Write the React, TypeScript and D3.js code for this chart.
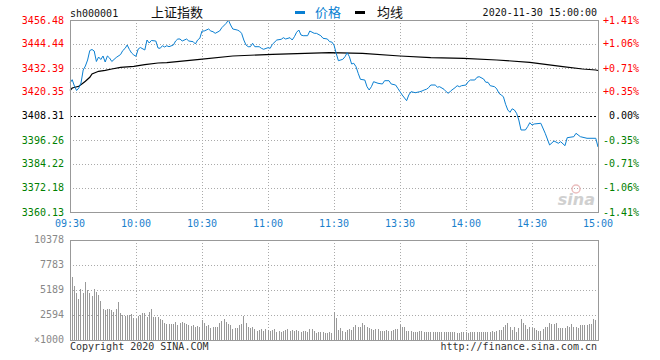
import React from "react";
import * as d3 from "d3";

// ---------- data ----------
const leftTicks = [3456.48, 3444.44, 3432.39, 3420.35, 3408.31, 3396.26, 3384.22, 3372.18, 3360.13];
const rightTicks = ["+1.41%", "+1.06%", "+0.71%", "+0.35%", "0.00%", "-0.35%", "-0.71%", "-1.06%", "-1.41%"];
const timeLabels = ["09:30", "10:00", "10:30", "11:00", "11:30", "13:30", "14:00", "14:30", "15:00"];
const volTicks = [10378, 7783, 5189, 2594];
const preClose = 3408.31;

const priceTimes = [
  "09:30","09:31","09:32","09:33","09:34","09:35","09:36","09:37","09:38","09:39","09:40","09:41","09:42","09:43","09:44","09:45","09:46","09:47","09:48","09:49","09:50","09:51","09:53","09:54","09:55","09:56","09:57","09:58","09:59","10:00",
  "10:01","10:02","10:04","10:05","10:06","10:07","10:09","10:10","10:11","10:12","10:13","10:14","10:15","10:17","10:18","10:19","10:20","10:21","10:23","10:24","10:26","10:27","10:28","10:29","10:30",
  "10:31","10:33","10:34","10:35","10:36","10:38","10:39","10:41","10:42","10:43","10:44","10:46","10:47","10:48","10:49","10:50","10:51","10:52","10:53","10:54","10:56","10:57","10:58","11:00",
  "11:01","11:02","11:04","11:06","11:07","11:08","11:10","11:11","11:12","11:13","11:14","11:15","11:16","11:18","11:19","11:21","11:22","11:24","11:25","11:27","11:28","11:29","11:30",
  "13:01","13:02","13:04","13:05","13:06","13:07","13:08","13:09","13:10","13:11","13:12","13:14","13:15","13:16","13:17","13:18","13:20","13:22","13:23","13:25","13:26","13:28","13:29","13:30",
  "13:31","13:33","13:34","13:35","13:37","13:39","13:40","13:41","13:42","13:43","13:44","13:46","13:47","13:48","13:50","13:51","13:52","13:53","13:55","13:56","13:57","13:58","14:00",
  "14:01","14:02","14:04","14:05","14:06","14:08","14:09","14:10","14:11","14:13","14:14","14:15","14:16","14:17","14:18","14:19","14:20","14:21","14:22","14:23","14:24","14:25","14:27","14:28","14:29","14:30",
  "14:31","14:34","14:36","14:38","14:40","14:42","14:43","14:45","14:46","14:49","14:50","14:52","14:55","14:59","15:00"
];
const priceValues = [
  3424.87,3426.52,3423.36,3421.10,3422.36,3424.87,3431.39,3433.40,3436.41,3441.17,3441.68,3440.92,3435.66,3437.91,3436.66,3438.42,3435.40,3438.42,3437.41,3435.66,3436.66,3437.66,3439.17,3441.17,3442.18,3443.93,3441.68,3439.92,3438.92,3438.26,
  3441.93,3442.68,3441.43,3446.44,3444.94,3446.19,3445.94,3442.43,3442.28,3443.58,3442.93,3443.58,3443.08,3443.93,3445.94,3446.94,3446.94,3445.94,3446.94,3445.94,3445.59,3444.44,3446.44,3447.30,3450.96,
  3450.96,3451.96,3450.96,3450.61,3449.80,3450.96,3452.61,3454.82,3456.48,3453.97,3451.96,3451.46,3450.96,3449.80,3446.44,3443.93,3443.08,3443.08,3444.79,3443.08,3443.08,3442.28,3441.78,3442.58,
  3442.28,3444.29,3446.44,3446.79,3447.60,3446.94,3447.60,3446.44,3448.10,3450.31,3451.46,3448.95,3448.60,3448.60,3450.96,3449.80,3449.80,3448.60,3447.30,3446.94,3445.59,3445.44,3443.93,
  3439.77,3436.06,3436.76,3438.06,3440.07,3438.06,3434.40,3434.75,3433.05,3429.73,3426.72,3426.37,3423.01,3421.36,3423.01,3425.52,3424.72,3424.37,3426.02,3426.02,3424.37,3423.86,3422.21,3420.50,
  3418.85,3415.99,3418.85,3420.50,3420.00,3420.50,3420.85,3421.36,3421.71,3422.51,3423.86,3423.86,3422.76,3423.01,3421.71,3420.50,3419.70,3420.85,3422.51,3423.51,3423.01,3423.51,3423.86,
  3425.52,3426.37,3426.37,3427.73,3428.03,3426.87,3425.22,3425.22,3423.51,3423.01,3421.86,3419.70,3418.85,3417.99,3414.18,3411.32,3410.17,3411.92,3411.32,3409.66,3406.30,3401.29,3401.29,3402.94,3404.95,3403.79,
  3404.30,3404.65,3399.63,3393.76,3395.77,3394.61,3395.42,3393.41,3397.42,3397.92,3399.63,3397.92,3397.12,3397.12,3392.76
];

const avgTimes = ["09:30","09:31","09:34","09:36","09:37","09:39","09:40","09:43","09:46","09:49","09:53","09:59","10:04","10:10","10:14","10:29","10:44","11:02","11:28","13:13","13:30","13:44","13:59","14:14","14:29","14:44","14:53","14:59","15:00"];
const avgValues = [3421.11,3422.36,3423.21,3424.87,3425.72,3427.73,3429.38,3430.74,3431.24,3431.89,3432.74,3433.24,3434.05,3434.90,3435.05,3436.76,3438.42,3439.27,3440.07,3439.77,3438.42,3437.56,3437.26,3436.41,3435.26,3433.05,3431.89,3431.39,3431.14];

// volume per minute (x1000), 09:30 .. 11:30, 13:01 .. 15:00
const volOpen = [10378];
const vol0930 = [6574,5605,4913,4256,5259,4913,6055,5190,4913,4567,5294,5017,4671,4083,3183,3114,3218,3183,3114,2941,3183,3979,2837,2595,2491,2595,2595,2699,2249,2145];
const vol1000 = [2491,2595,2837,2768,2353,2941,3218,2422,2353,2422,2145,2076,1799,1661,1661,1661,1661,1903,1557,1799,1903,1799,1661,1557,1488,1557,1384,1488,1315,2076];
const vol1030 = [1799,1453,1557,1211,1315,1384,1384,1799,2007,2145,1903,1661,1557,1142,1211,1280,1557,1661,2491,1799,1384,1211,1315,1107,969,1038,1107,969,1107,1038];
const vol1100 = [969,1038,1107,865,969,865,969,1038,1107,969,1038,969,1038,969,865,969,934,865,1107,1142,969,761,865,796,830,692,761,830,692,2941];
const vol1300 = [2249,1038,1211,969,865,1038,1107,1038,1315,1557,1384,1384,1799,1557,1384,1211,1107,1038,1107,1142,969,969,969,1038,969,969,1038,1142,1107,1557];
const vol1330 = [1384,1315,969,969,934,865,865,865,969,934,865,796,830,865,796,830,796,865,865,865,865,865,865,865,796,692,761,830,865,865];
const vol1400 = [692,865,865,830,865,830,865,865,865,865,865,969,865,969,1038,1038,1384,1557,1799,1315,1038,1384,865,1211,2145,1730,1557,1107,1384,1211];
const vol1430 = [1211,1038,969,969,1107,1315,1384,1799,1626,1661,1799,1280,1280,1280,1280,1453,1384,1661,1315,1315,1246,1557,1557,1557,1557,1626,1661,2180,2076,277];
const volumes = [...volOpen, ...vol0930, ...vol1000, ...vol1030, ...vol1100, ...vol1300, ...vol1330, ...vol1400, ...vol1430];

// ---------- helpers ----------
const toIdx = (t: string) => {
  const [h, m] = t.split(":").map(Number);
  const mins = h * 60 + m;
  if (mins <= 11 * 60 + 30) return mins - (9 * 60 + 30);
  return mins - 13 * 60 + 120;
};

const W = 660, H = 360;
const L = 70, R = 598, T = 20, B = 212;
const VT = 240, VB = 340;
const mono = "'DejaVu Sans Mono', 'Liberation Mono', monospace";
const cjk = "'Noto Sans CJK SC', 'Noto Sans', sans-serif";
const BLUE = "#0a7fd2";
const TBLUE = "#1a80cc";
const GRID = "#aaaaaa";
const BORDER = "#999999";

export default function App() {
  const x = d3.scaleLinear().domain([0, 240]).range([L, R]);
  const y = d3.scaleLinear().domain([leftTicks[8], leftTicks[0]]).range([B, T]);
  const yv = d3.scaleLinear().domain([0, volTicks[0]]).range([VB, VT]);

  const line = d3.line<[number, number]>().x(d => x(d[0])).y(d => y(d[1]));
  const pricePath = line(priceTimes.map((t, i) => [toIdx(t), priceValues[i]]));
  const avgPath = line(avgTimes.map((t, i) => [toIdx(t), avgValues[i]]));

  const gridIdx = timeLabels.map(toIdx).map((v, i) => (i === 5 ? 150 : v));
  const labelColor = (i: number) => (i < 4 ? "#ff0000" : i === 4 ? "#000000" : "#008000");

  return (
    <svg width={W} height={H} style={{ position: "absolute", left: 0, top: 0, background: "#fff" }}
      xmlns="http://www.w3.org/2000/svg">
      <rect x={0} y={0} width={W} height={H} fill="#ffffff" />
      {/* header */}
      <text x={70} y={16.5} fontFamily={mono} fontSize={10} fill="#111">sh000001</text>
      <text x={151} y={16.5} fontFamily={cjk} fontSize={13} fill="#111">上证指数</text>
      <rect x={295} y={11} width={10} height={3} fill={BLUE} />
      <text x={315} y={16.5} fontFamily={cjk} fontSize={13} fill={BLUE}>价格</text>
      <rect x={355} y={11} width={10} height={3} fill="#000" />
      <text x={377} y={16.5} fontFamily={cjk} fontSize={13} fill="#111">均线</text>
      <text x={597} y={16} fontFamily={mono} fontSize={10} fill="#111" textAnchor="end">2020-11-30 15:00:00</text>

      {/* main grid */}
      <g shapeRendering="crispEdges">
        {leftTicks.map((v, i) =>
          i > 0 && i < 8 && i !== 4 ? (
            <line key={"h" + i} x1={L} x2={R} y1={Math.round(y(v)) + 0.5} y2={Math.round(y(v)) + 0.5}
              stroke={GRID} strokeDasharray="1,2" />
          ) : null
        )}
        {gridIdx.slice(1, 8).map((v, i) => (
          <line key={"v" + i} x1={Math.round(x(v)) + 0.5} x2={Math.round(x(v)) + 0.5} y1={T} y2={B}
            stroke={GRID} strokeDasharray="1,2" />
        ))}
        <line x1={L} x2={R} y1={Math.round(y(preClose)) + 0.5} y2={Math.round(y(preClose)) + 0.5}
          stroke="#000" strokeDasharray="2,2" />
      </g>

      {/* watermark */}
      <g opacity={0.9}>
        <circle cx={576} cy={189} r={4} fill="none" stroke="#e9b8b8" strokeWidth={1.5} />
        <text x={595} y={205} fontFamily="'DejaVu Sans', sans-serif" fontSize={16} fontWeight="bold"
          fontStyle="italic" fill="#cccccc" textAnchor="end">sina</text>
      </g>

      {/* lines */}
      <path d={avgPath || ""} fill="none" stroke="#000" strokeWidth={1.2} />
      <path d={pricePath || ""} fill="none" stroke={BLUE} strokeWidth={1} />

      {/* main border */}
      <rect x={L + 0.5} y={T + 0.5} width={R - L} height={B - T} fill="none" stroke={BORDER}
        strokeWidth={1.5} shapeRendering="crispEdges" />

      {/* left labels */}
      {leftTicks.map((v, i) => (
        <text key={"l" + i} x={64} y={y(v) + 3.5} fontFamily={mono} fontSize={10} textAnchor="end"
          fill={labelColor(i)}>{v.toFixed(2)}</text>
      ))}
      {/* right labels */}
      {rightTicks.map((s, i) => (
        <text key={"r" + i} x={603} y={y(leftTicks[i]) + 3.5} fontFamily={mono} fontSize={10}
          fill={labelColor(i)} xmlSpace="preserve">{i === 4 ? " " + s : s}</text>
      ))}
      {/* time labels */}
      {timeLabels.map((s, i) => (
        <text key={"t" + i} x={x(gridIdx[i])} y={227} fontFamily={mono} fontSize={10} textAnchor="middle"
          fill={TBLUE}>{s}</text>
      ))}

      {/* volume grid */}
      <g shapeRendering="crispEdges">
        {volTicks.slice(1).map((v, i) => (
          <line key={"vh" + i} x1={L} x2={R} y1={Math.round(yv(v)) + 0.5} y2={Math.round(yv(v)) + 0.5}
            stroke={GRID} strokeDasharray="1,2" />
        ))}
        {gridIdx.slice(1, 8).map((v, i) => (
          <line key={"vv" + i} x1={Math.round(x(v)) + 0.5} x2={Math.round(x(v)) + 0.5} y1={VT} y2={VB}
            stroke={GRID} strokeDasharray="1,2" />
        ))}
        {volumes.map((v, i) => (
          <line key={"b" + i} x1={Math.floor(x(i)) + 0.5} x2={Math.floor(x(i)) + 0.5} y1={VB}
            y2={Math.round(yv(v))} stroke="#999" strokeWidth={1} />
        ))}
        <rect x={L + 0.5} y={VT + 0.5} width={R - L} height={VB - VT} fill="none" stroke={BORDER}
          strokeWidth={1.5} />
      </g>
      {volTicks.map((v, i) => (
        <text key={"vl" + i} x={64} y={yv(v) + 3} fontFamily={mono} fontSize={10} textAnchor="end"
          fill="#888">{String(v)}</text>
      ))}
      <text x={64} y={VB + 3} fontFamily={mono} fontSize={10} textAnchor="end" fill="#888">×1000</text>
      <text x={70} y={350} fontFamily={mono} fontSize={10} fill="#333">Copyright 2020 SINA.COM</text>
      <text x={597} y={350} fontFamily={mono} fontSize={10} fill="#333" textAnchor="end">http://finance.sina.com.cn</text>
    </svg>
  );
}
